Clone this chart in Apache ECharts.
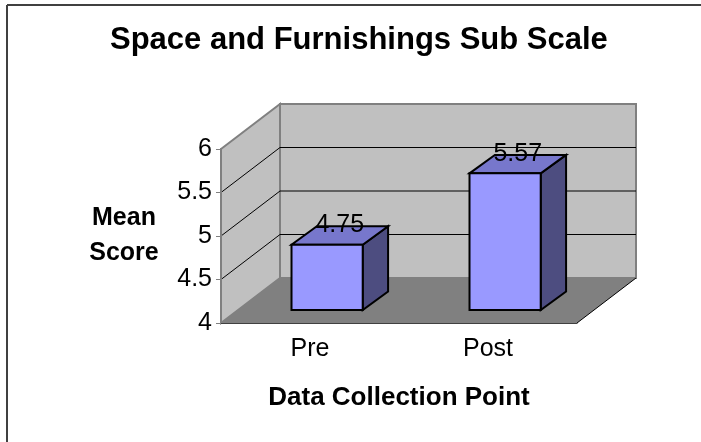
<!DOCTYPE html>
<html><head><meta charset="utf-8">
<script src="https://cdn.jsdelivr.net/npm/echarts@6/dist/echarts.min.js"></script>
<style>html,body{margin:0;padding:0;background:#fff}#c{width:701px;height:442px}</style>
</head><body><div id="c"></div>
<script>
const categories = ['Pre', 'Post'];
const meanScores = [4.75, 5.57];
const yTicks = [4, 4.5, 5, 5.5, 6];
const titleText = 'Space and Furnishings Sub Scale';
const xAxisTitle = 'Data Collection Point';
const yAxisTitle = 'Mean\nScore';

const FONT = '"Liberation Sans", Arial, Helvetica, sans-serif';
const DEPTH = [59, -45];
const Y_MIN = yTicks[0], Y_MAX = yTicks[yTicks.length - 1];

function renderWalls(params, api) {
  const bw = api.size([1, 0])[0];
  const x0 = api.coord([0, Y_MIN])[0] - bw / 2;
  const x1 = api.coord([categories.length - 1, Y_MIN])[0] + bw / 2;
  const yb = api.coord([0, Y_MIN])[1];
  const yt = api.coord([0, Y_MAX])[1];
  const dx = DEPTH[0], dy = DEPTH[1];
  const children = [];
  children.push({type: 'polygon', shape: {points: [[x0 + dx, yt + dy], [x1 + dx, yt + dy], [x1 + dx, yb + dy], [x0 + dx, yb + dy]]},
    style: {fill: '#C0C0C0', stroke: '#808080', lineWidth: 2}});
  children.push({type: 'polygon', shape: {points: [[x0, yt], [x0 + dx, yt + dy], [x0 + dx, yb + dy], [x0, yb]]},
    style: {fill: '#C0C0C0', stroke: '#808080', lineWidth: 2}});
  children.push({type: 'polygon', shape: {points: [[x0, yb], [x0 + dx, yb + dy], [x1 + dx, yb + dy], [x1, yb]]},
    style: {fill: '#808080'}});
  children.push({type: 'line', shape: {x1: x1, y1: yb, x2: x1 + dx, y2: yb + dy}, style: {stroke: '#000', lineWidth: 1}});
  yTicks.slice(1, -1).forEach(function (v) {
    const y = api.coord([0, v])[1];
    children.push({type: 'polyline', shape: {points: [[x0, y], [x0 + dx, y + dy], [x1 + dx, y + dy]]},
      style: {stroke: '#000', lineWidth: 1, fill: null}});
  });
  return {type: 'group', children: children};
}

function renderBar(params, api) {
  const i = api.value(0), v = api.value(1);
  const topPt = api.coord([i, v]);
  const basePt = api.coord([i, Y_MIN]);
  const bw = api.size([1, 0])[0];
  const w = bw * 0.4;
  const fx = 0.29 * DEPTH[0], fy = 0.29 * DEPTH[1];
  const dx = 0.43 * DEPTH[0], dy = 0.41 * DEPTH[1];
  const left = topPt[0] - w / 2 + fx, right = left + w;
  const top = topPt[1] + fy, bottom = basePt[1] + fy;
  const edge = {stroke: '#000', lineWidth: 2, lineJoin: 'miter'};
  return {type: 'group', children: [
    {type: 'polygon', shape: {points: [[right, top], [right + dx, top + dy], [right + dx, bottom + dy], [right, bottom]]},
      style: Object.assign({fill: '#4D4D80'}, edge)},
    {type: 'polygon', shape: {points: [[left, top], [right, top], [right + dx, top + dy], [left + dx, top + dy]]},
      style: Object.assign({fill: '#7777CC'}, edge)},
    {type: 'polygon', shape: {points: [[left, top], [right, top], [right, bottom], [left, bottom]]},
      style: Object.assign({fill: '#9999FF'}, edge)},
    {type: 'text', style: {text: String(v), x: left + w / 2 + dx / 2, y: top + dy / 2 - 10,
      align: 'center', verticalAlign: 'middle', font: '25px ' + FONT, fill: '#000'}}
  ]};
}

const chart = echarts.init(document.getElementById('c'), null, {renderer: 'canvas'});
chart.setOption({
  animation: false,
  backgroundColor: '#fff',
  title: {text: titleText, left: 110, top: 25, padding: 0,
    textStyle: {fontFamily: FONT, fontSize: 31, fontWeight: 'bold', color: '#000'}},
  grid: {left: 221, top: 149, width: 356, height: 174, containLabel: false, outerBoundsMode: 'none'},
  xAxis: {
    type: 'category', data: categories, z: 5,
    name: xAxisTitle, nameLocation: 'middle', nameGap: 62,
    nameTextStyle: {fontFamily: FONT, fontSize: 26, fontWeight: 'bold', color: '#000'},
    axisLine: {lineStyle: {color: '#404040', width: 1}},
    axisTick: {length: 5, lineStyle: {color: '#404040', width: 1}},
    axisLabel: {fontFamily: FONT, fontSize: 25, color: '#000', margin: 14},
    splitLine: {show: false}
  },
  yAxis: {
    type: 'value', min: Y_MIN, max: Y_MAX, interval: 0.5, z: 5,
    name: yAxisTitle, nameLocation: 'middle', nameRotate: 0, nameGap: 97,
    nameTextStyle: {fontFamily: FONT, fontSize: 25, fontWeight: 'bold', color: '#000', align: 'center', lineHeight: 35},
    axisLine: {show: true, lineStyle: {color: '#808080', width: 2}},
    axisTick: {show: true, length: 5, lineStyle: {color: '#808080', width: 1}},
    axisLabel: {fontFamily: FONT, fontSize: 25, color: '#000', margin: 9},
    splitLine: {show: false}
  },
  graphic: [
    {type: 'line', shape: {x1: 7, y1: 5, x2: 701, y2: 5}, style: {stroke: '#404040', lineWidth: 2}},
    {type: 'line', shape: {x1: 7, y1: 5, x2: 7, y2: 442}, style: {stroke: '#404040', lineWidth: 2}}
  ],
  series: [
    {type: 'custom', name: 'walls', z: 1, silent: true, clip: false, renderItem: renderWalls, data: [[0, Y_MIN]]},
    {type: 'custom', name: 'Mean Score', z: 10, clip: false, renderItem: renderBar,
      data: categories.map(function (c, i) { return [i, meanScores[i]]; })}
  ]
});
</script></body></html>
